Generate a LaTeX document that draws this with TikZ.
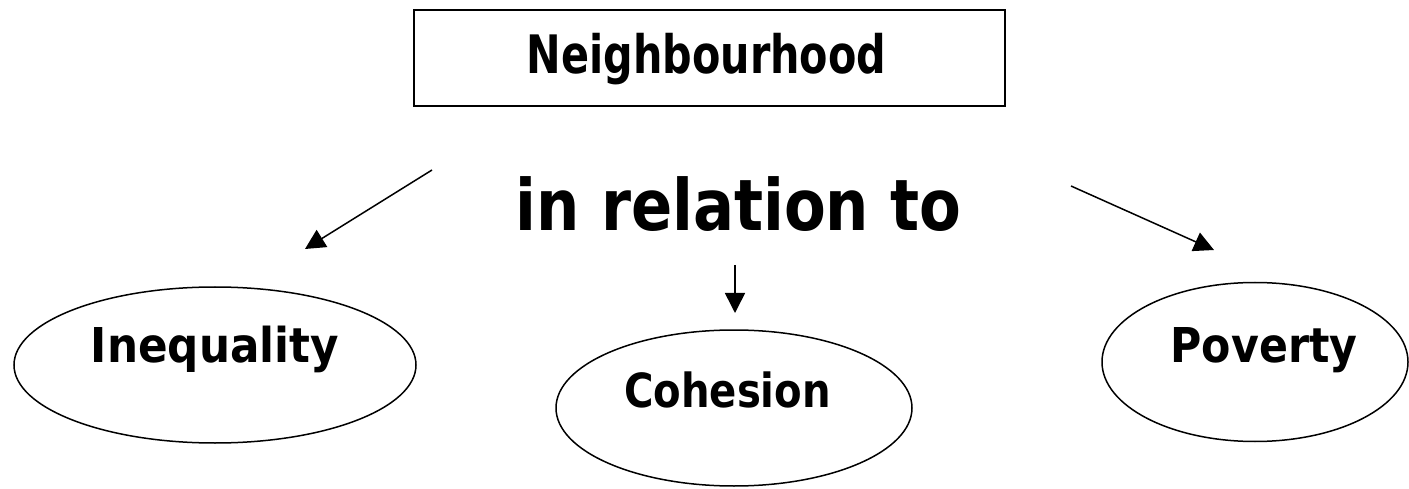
\documentclass[tikz,border=0pt]{standalone}
\usepackage{graphicx}
\usepackage{fontspec}
\setmainfont{DejaVu Sans}
\usetikzlibrary{arrows.meta,shapes.geometric}

% bold label squeezed horizontally by #1
\newcommand{\narrowlabel}[2]{\scalebox{#1}[1]{#2}}

\begin{document}
\begin{tikzpicture}[x=1pt,y=-1pt,
  lbl/.style={font=\bfseries\fontsize{#1}{#1}\selectfont, inner sep=0pt, anchor=base},
  oval/.style={draw, ellipse, line width=1.5pt, inner sep=0pt},
  link/.style={line width=1.5pt, -{Triangle[length=20pt,width=20pt]}}]
  \useasboundingbox (0,0) rectangle (1409,489);

  % title box
  \node[draw, line width=2pt, minimum width=591pt, minimum height=96pt, inner sep=0pt] (topbox) at (709.5,58) {};
  \node[lbl=53] (toptext) at (706.5,74) {\narrowlabel{0.78}{Neighbourhood}};

  % middle phrase
  \node[lbl=71] (rel) at (738.5,231) {\narrowlabel{0.857}{in relation to}};

  % the three topics
  \node[oval, minimum width=402pt, minimum height=156pt] (ineq) at (215,365) {};
  \node[lbl=48] (ineqtext) at (215,362) {\narrowlabel{0.91}{Inequality}};
  \node[oval, minimum width=356pt, minimum height=156pt] (coh) at (734,408) {};
  \node[lbl=47] (cohtext) at (727.5,407) {\narrowlabel{0.855}{Cohesion}};
  \node[oval, minimum width=306pt, minimum height=159pt] (pov) at (1255,362) {};
  \node[lbl=48] (povtext) at (1264,362) {\narrowlabel{0.89}{Poverty}};

  % arrow ends
  \coordinate (la) at (432,170);
  \coordinate (lb) at (305,249);
  \coordinate (ma) at (735,265);
  \coordinate (mb) at (735,313);
  \coordinate (ra) at (1071,186);
  \coordinate (rb) at (1214,250);

  \draw[link] (la) -- (lb);
  \draw[link] (ma) -- (mb);
  \draw[link] (ra) -- (rb);
\end{tikzpicture}
\end{document}
